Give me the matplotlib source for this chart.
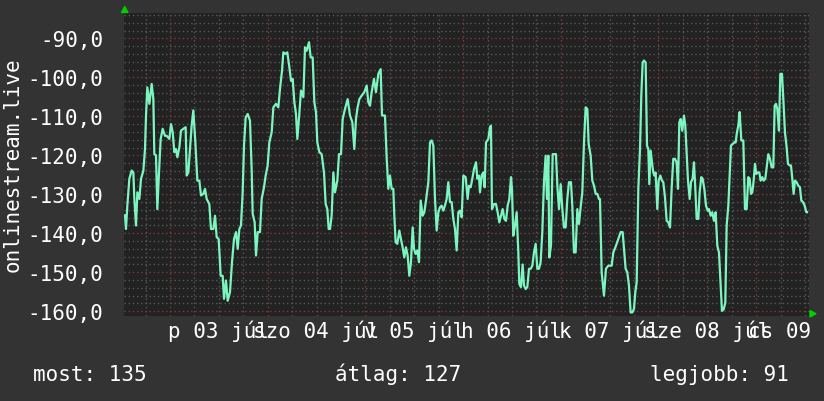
"""
Weekly signal graph for onlinestream.live (rrdtool style)
"""

import numpy as np
import matplotlib.pyplot as plt
from matplotlib.patches import Polygon

# ---------------------------------------------------------------------------- #
# Data: hours since 03 Jul 00:00, signal value
# ---------------------------------------------------------------------------- #
hours = [
    -11.05, -10.81, -10.48, -9.99, -9.41, -9.00, -8.76, -8.35, -8.02, -7.53,
    -7.12, -6.55, -6.14, -5.89, -5.57, -5.07, -4.50, -4.09, -3.85, -3.44,
    -3.11, -2.70, -2.29, -1.80, -1.23, -0.82, -0.16, 0.25, 0.66, 1.07,
    1.48, 1.80, 2.30, 2.70, 3.28, 3.85, 4.10, 4.51, 4.92, 5.32,
    5.73, 6.23, 6.72, 7.21, 7.62, 8.19, 8.60, 9.01, 9.66, 10.07,
    10.65, 11.06, 11.47, 11.96, 12.45, 12.94, 13.27, 13.76, 14.17, 14.74,
    15.23, 15.72, 16.22, 16.63, 17.03, 17.44, 17.85, 18.18, 18.59, 19.08,
    19.65, 20.06, 20.31, 20.80, 21.13, 21.54, 22.11, 22.52, 23.09, 23.50,
    23.99, 24.40, 24.98, 25.39, 26.04, 26.61, 27.02, 27.52, 27.84, 28.33,
    28.82, 29.32, 29.73, 30.14, 30.55, 30.95, 31.28, 31.77, 32.18, 32.76,
    33.16, 33.57, 34.15, 34.56, 35.05, 35.46, 35.87, 36.19, 36.69, 37.26,
    37.83, 38.24, 38.65, 38.98, 39.31, 39.71, 40.13, 40.53, 41.11, 41.52,
    42.01, 42.42, 42.99, 43.65, 44.22, 44.79, 45.28, 45.69, 46.02, 46.51,
    47.09, 47.74, 48.31, 48.72,
    49.13, 49.54, 50.11, 50.60, 51.18, 51.75, 52.08, 52.81, 53.22, 53.63,
    54.04, 54.45, 54.86, 55.11, 55.43, 55.84, 56.34, 56.74, 57.15, 57.56,
    57.97, 58.38, 58.79, 59.20, 59.61, 59.94, 60.35, 60.76, 61.17, 61.58,
    62.07, 62.48, 62.89, 63.46, 63.87, 64.28, 64.69, 65.10, 65.51, 65.92,
    66.33, 66.73, 67.14, 67.55, 67.96, 68.37, 68.78, 69.19, 69.60, 70.01,
    70.42, 70.83, 71.24, 71.65, 72.06, 72.63, 73.12, 73.45, 73.86, 74.27,
    74.68, 75.17, 75.50, 75.91, 76.15, 76.56, 76.97, 77.30, 77.63, 78.20,
    78.61, 78.85, 79.10, 79.59, 80.08, 80.49, 80.90, 81.31, 81.72, 82.13,
    82.54, 82.95, 83.36, 83.77, 84.01, 84.34, 84.75, 85.16, 85.57, 85.81,
    86.22, 86.63, 86.96, 87.37, 87.78, 88.19, 88.60, 89.01, 89.42, 89.83,
    90.23, 90.64, 91.05, 91.46, 91.87, 92.28, 92.61, 92.94, 93.18, 93.59,
    94.00, 94.41, 94.82, 95.15, 95.56, 95.97, 96.38, 96.79, 97.20, 97.60,
    98.01, 98.50, 98.83, 99.24, 99.65, 100.06, 100.47, 100.88, 101.29, 101.70,
    102.11, 102.52, 102.85, 103.34, 103.75, 104.16, 104.57, 104.98, 105.38,
    105.63, 106.04, 106.61, 107.10, 107.68, 108.50, 108.91, 109.56, 110.13, 110.71,
    111.20, 111.53, 111.93, 112.34, 112.75, 113.16, 113.57, 113.98, 114.31, 114.64,
    115.05, 115.46, 115.78, 116.11, 116.44, 116.85, 117.18, 117.50, 117.75, 118.08,
    118.49, 118.73, 118.98, 119.30, 119.71, 120.04, 120.45, 120.86, 121.19, 121.60,
    122.01, 122.42, 122.83, 123.23, 123.64, 124.05, 124.46, 124.79, 125.12, 125.45,
    125.85, 126.26, 126.59, 126.92, 127.25, 127.66, 127.98, 128.39, 128.72, 129.05,
    129.38, 129.79, 130.11, 130.52, 130.85, 131.26, 131.67, 132.08, 132.41, 132.82,
    133.22, 133.63, 134.04, 134.45, 134.86, 135.27, 135.60, 136.01, 136.42, 136.75,
    137.16, 137.48, 137.81, 138.22, 138.63, 138.96, 139.28, 139.61, 139.94, 140.35,
    140.84, 141.25, 141.66, 142.07, 142.40, 142.72, 143.05, 143.38, 143.71, 144.03,
    144.36, 144.77, 145.10, 145.51, 145.83, 146.24, 146.65, 146.98, 147.39, 147.80,
    148.21, 148.54, 148.86, 149.19, 149.60, 149.93, 150.34, 150.67, 151.07, 151.48,
    151.81, 152.22, 152.55, 152.88, 153.20, 153.53, 153.94, 154.35, 154.76, 155.09,
    155.50, 155.91, 156.32, 156.48,
]

values = [
    -135.4, -138.9, -132.9, -126.0, -123.9, -124.4, -131.2, -138.0, -129.5, -131.2,
    -126.0, -124.0, -118.4, -109.8, -102.6, -106.8, -101.7, -105.6, -119.7, -120.0,
    -133.8, -124.4, -115.8, -113.2, -115.0, -115.0, -115.8, -112.0, -114.1, -119.2,
    -118.4, -120.5, -118.0, -113.7, -113.2, -112.8, -125.2, -124.4, -118.4, -112.4,
    -108.5, -116.7, -126.5, -126.5, -130.3, -129.9, -128.6, -131.2, -132.5, -138.9,
    -138.9, -135.5, -141.0, -141.5, -150.9, -150.9, -156.8, -152.1, -157.3, -155.1,
    -147.4, -141.5, -139.7, -144.0, -138.9, -138.0, -129.5, -117.5, -110.3, -109.4,
    -111.1, -123.5, -135.0, -137.2, -145.7, -139.7, -139.7, -131.2, -128.2, -125.2,
    -122.6, -116.7, -114.1, -107.7, -106.8, -107.7, -103.0, -98.3, -93.6, -94.0,
    -93.6, -97.4, -100.9, -100.4, -106.4, -109.4, -115.8, -109.4, -103.4, -105.1,
    -92.3, -93.2, -91.0, -94.9, -94.9, -106.4, -109.0, -116.7, -119.2, -119.7,
    -124.4, -132.5, -133.8, -138.9, -138.9, -135.5, -124.4, -129.5, -126.5, -119.7,
    -119.7, -110.7, -108.1, -105.6, -109.8, -111.5, -118.4, -110.7, -108.1, -105.6,
    -104.7, -103.8, -102.1, -106.4,
    -107.3, -103.8, -100.4, -103.8, -99.1, -97.9, -109.8, -109.8, -120.5, -128.6,
    -125.2, -128.6, -128.6, -135.5, -142.3, -142.7, -139.3, -141.5, -143.6, -146.2,
    -143.6, -145.7, -150.9, -147.4, -138.5, -144.0, -145.3, -144.4, -147.4, -131.6,
    -135.5, -134.6, -131.6, -126.9, -116.7, -116.2, -117.5, -131.2, -139.3, -134.6,
    -133.3, -132.9, -134.2, -132.9, -131.2, -126.9, -132.0, -132.0, -136.3, -138.9,
    -144.4, -134.6, -134.2, -135.9, -125.2, -125.6, -131.2, -127.8, -128.2, -126.0,
    -123.5, -121.8, -126.0, -125.2, -129.5, -125.2, -124.4, -128.2, -116.7, -115.8,
    -112.8, -112.4, -133.8, -132.5, -132.5, -134.6, -137.2, -135.5, -133.8, -136.3,
    -136.8, -132.9, -131.2, -125.6, -128.6, -140.6, -138.0, -134.6, -144.9, -153.0,
    -153.8, -148.0, -153.4, -154.3, -153.8, -149.1, -149.1, -148.3, -144.9, -142.7,
    -149.1, -149.1, -147.4, -139.7, -126.9, -120.1, -131.2, -120.1, -146.2, -143.2,
    -119.7, -119.7, -119.7, -127.8, -133.8, -127.4, -133.8, -138.5, -138.5, -131.2,
    -126.9, -126.9, -132.9, -144.9, -144.9, -133.8, -137.6, -133.3, -129.5, -116.7,
    -107.7, -108.1, -117.1, -120.1, -126.5, -127.8, -129.9, -129.9, -131.2,
    -131.2, -150.0, -156.0, -149.1, -148.3, -148.3, -144.9, -143.2, -141.5, -139.7,
    -139.7, -144.0, -149.1, -150.0, -153.4, -160.3, -160.3, -159.4, -155.1, -152.6,
    -128.6, -118.4, -104.7, -96.2, -95.7, -96.2, -117.5, -118.4, -127.4, -118.8,
    -122.6, -124.4, -125.2, -124.4, -133.8, -126.5, -125.2, -126.5, -126.9, -130.8,
    -136.8, -137.2, -138.5, -128.6, -120.9, -120.9, -121.8, -128.6, -111.5, -110.7,
    -113.7, -109.8, -112.4, -119.2, -126.5, -131.2, -126.9, -126.0, -121.8, -128.6,
    -136.3, -136.3, -129.5, -125.6, -126.0, -128.6, -132.9, -134.2, -133.8, -135.5,
    -134.6, -136.8, -134.6, -143.2, -144.9, -153.4, -159.9, -159.5, -157.8, -138.0,
    -132.9, -125.2, -117.5, -117.1, -116.7, -116.7, -114.1, -112.4, -108.9, -116.2,
    -116.2, -133.8, -133.8, -125.6, -126.0, -129.9, -129.5, -126.5, -122.2, -124.8,
    -124.4, -124.4, -126.5, -125.6, -126.5, -126.0, -122.6, -119.7, -120.9, -123.1,
    -123.1, -107.3, -106.8, -108.1, -113.7, -99.1, -99.1, -105.6, -114.1, -117.9,
    -122.2, -122.6, -122.6, -126.0, -129.9, -126.5, -126.9, -127.8, -128.2, -131.6,
    -132.0, -132.9, -134.6, -134.6,
]

day_labels = ['p 03 júl', 'szo 04 júl', 'v 05 júl', 'h 06 júl',
              'k 07 júl', 'sze 08 júl', 'cs 09 júl']
day_label_hours = [12, 36, 60, 84, 108, 132, 156]
ytick_values = [-90, -100, -110, -120, -130, -140, -150, -160]
ytick_labels = ['-90,0', '-100,0', '-110,0', '-120,0',
                '-130,0', '-140,0', '-150,0', '-160,0']
ylabel = 'onlinestream.live'
summary = ['most: 135', 'átlag: 127', 'legjobb: 91']

# ---------------------------------------------------------------------------- #
# Style
# ---------------------------------------------------------------------------- #
W, H = 824, 402
canvas_col = '#333333'
plot_col = '#222222'
minor_col = '#575757'
major_col = '#74403f'
line_col = '#7df5c1'
arrow_col = '#00d000'
text_col = '#ffffff'
fsize = 15

plt.rcParams['font.family'] = ['DejaVu Sans Mono']

fig = plt.figure(figsize=(W / 100, H / 100), dpi=100, facecolor=canvas_col)
ax = fig.add_axes([124 / W, 1 - 316.5 / H, (809.5 - 124) / W, (316.5 - 14) / H])
ax.set_facecolor(plot_col)
for s in ax.spines.values():
    s.set_visible(False)

# Grid: minor every 2 units / 6 hours, major every 10 units / 24 hours
for y in np.arange(-160, -83, 2):
    if y % 10 != 0:
        ax.axhline(y, color=minor_col, lw=1, ls=(0, (1, 2)), zorder=1)
for x in np.arange(-6, 157, 6):
    if x % 24 != 0:
        ax.axvline(x, color=minor_col, lw=1, ls=(0, (1, 2)), zorder=1)
for y in ytick_values:
    ax.axhline(y, color=major_col, lw=1, ls=(0, (1, 2)), zorder=2)
for x in np.arange(0, 157, 24):
    ax.axvline(x, color=major_col, lw=1, ls=(0, (1, 2)), zorder=2)

ax.plot(hours, values, color=line_col, lw=1.6, zorder=3)

ax.set_xlim(-11.3, 157.1)
ax.set_ylim(-161.08, -83.51)

ax.set_yticks(ytick_values)
ax.set_yticklabels(ytick_labels, color=text_col, fontsize=fsize)
ax.tick_params(axis='y', length=0, pad=15)
ax.set_xticks([])

# Day labels (centered at noon, overlapping as in rrdtool)
for h, lab in zip(day_label_hours, day_labels):
    ax.text(h, 1 - 338.5 / H, lab, transform=ax.get_xaxis_transform(),
            ha='center', va='baseline', color=text_col, fontsize=fsize,
            clip_on=False)
# fix transform: blended x data / figure y
for t in ax.texts:
    t.set_transform(
        __import__('matplotlib').transforms.blended_transform_factory(
            ax.transData, fig.transFigure))

fig.text(13 / W, 1 - 165 / H, ylabel, rotation=90, ha='center', va='center',
         color=text_col, fontsize=fsize)

for xpos, txt in zip([33, 335, 650], summary):
    fig.text(xpos / W, 1 - 381.5 / H, txt, ha='left', va='baseline',
             color=text_col, fontsize=fsize)

# Green axis arrows
fig.add_artist(Polygon([[121.5 / W, 1 - 13.5 / H], [128 / W, 1 - 13.5 / H],
                        [124.75 / W, 1 - 7.5 / H]], closed=True,
                       transform=fig.transFigure, color=arrow_col))
fig.add_artist(Polygon([[810 / W, 1 - 311.5 / H], [810 / W, 1 - 318 / H],
                        [816 / W, 1 - 314.75 / H]], closed=True,
                       transform=fig.transFigure, color=arrow_col))

fig.savefig('out.png', dpi=100, facecolor=canvas_col)
plt.close()
